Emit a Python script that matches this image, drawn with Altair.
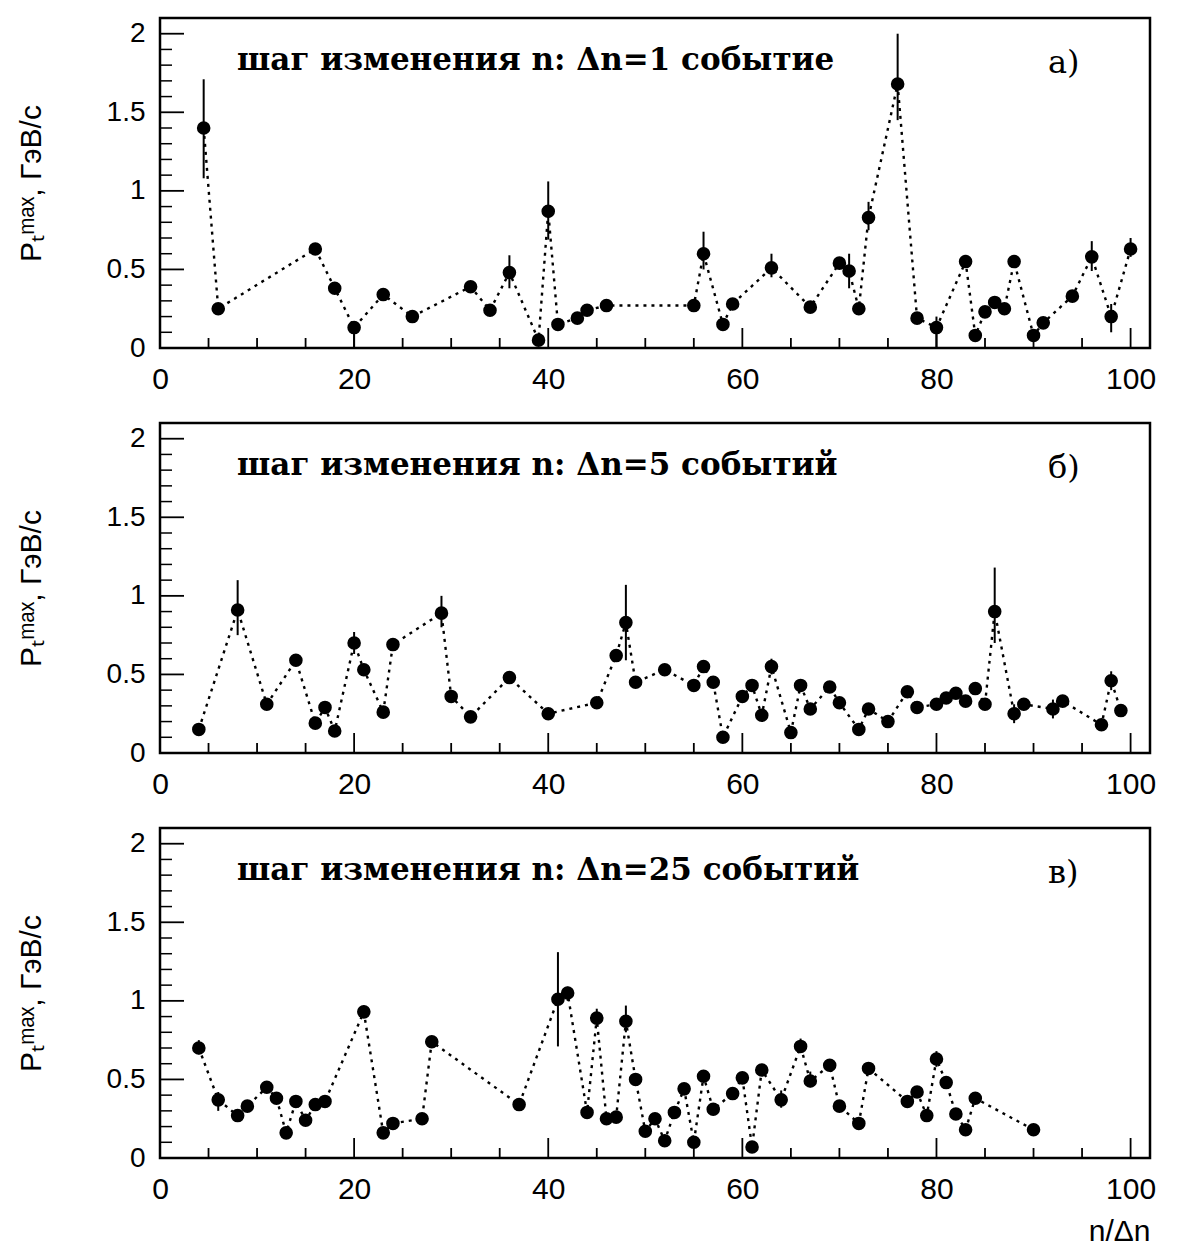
import altair as alt
import pandas as pd

# ---------------- data ----------------
# panel a) step dn = 1 event
xa = [4.5, 6, 16, 18, 20, 23, 26, 32, 34, 36, 39, 40, 41, 43, 44, 46, 55, 56, 58, 59,
      63, 67, 70, 71, 72, 73, 76, 78, 80, 83, 84, 85, 86, 87, 88, 90, 91, 94, 96, 98, 100]
ya = [1.40, 0.25, 0.63, 0.38, 0.13, 0.34, 0.20, 0.39, 0.24, 0.48, 0.05, 0.87, 0.15, 0.19,
      0.24, 0.27, 0.27, 0.60, 0.15, 0.28, 0.51, 0.26, 0.54, 0.49, 0.25, 0.83, 1.68, 0.19,
      0.13, 0.55, 0.08, 0.23, 0.29, 0.25, 0.55, 0.08, 0.16, 0.33, 0.58, 0.20, 0.63]
ea_x = [4.5, 20, 36, 40, 56, 63, 71, 73, 76, 80, 96, 98, 100]
ea_lo = [1.08, 0.00, 0.38, 0.69, 0.50, 0.45, 0.38, 0.75, 1.45, 0.00, 0.49, 0.10, 0.58]
ea_hi = [1.71, 0.13, 0.59, 1.06, 0.74, 0.60, 0.60, 0.93, 2.00, 0.20, 0.68, 0.28, 0.70]

# panel б) step dn = 5 events
xb = [4, 8, 11, 14, 16, 17, 18, 20, 21, 23, 24, 29, 30, 32, 36, 40, 45, 47, 48, 49,
      52, 55, 56, 57, 58, 60, 61, 62, 63, 65, 66, 67, 69, 70, 72, 73, 75, 77, 78, 80,
      81, 82, 83, 84, 85, 86, 88, 89, 92, 93, 97, 98, 99]
yb = [0.15, 0.91, 0.31, 0.59, 0.19, 0.29, 0.14, 0.70, 0.53, 0.26, 0.69, 0.89, 0.36, 0.23,
      0.48, 0.25, 0.32, 0.62, 0.83, 0.45, 0.53, 0.43, 0.55, 0.45, 0.10, 0.36, 0.43, 0.24,
      0.55, 0.13, 0.43, 0.28, 0.42, 0.32, 0.15, 0.28, 0.20, 0.39, 0.29, 0.31, 0.35, 0.38,
      0.33, 0.41, 0.31, 0.90, 0.25, 0.31, 0.28, 0.33, 0.18, 0.46, 0.27]
eb_x = [8, 20, 29, 48, 63, 86, 88, 92, 98]
eb_lo = [0.75, 0.63, 0.80, 0.59, 0.50, 0.70, 0.19, 0.22, 0.40]
eb_hi = [1.10, 0.77, 1.00, 1.07, 0.60, 1.18, 0.31, 0.34, 0.52]

# panel в) step dn = 25 events
xc = [4, 6, 8, 9, 11, 12, 13, 14, 15, 16, 17, 21, 23, 24, 27, 28, 37, 41, 42, 44,
      45, 46, 47, 48, 49, 50, 51, 52, 53, 54, 55, 56, 57, 59, 60, 61, 62, 64, 66, 67,
      69, 70, 72, 73, 77, 78, 79, 80, 81, 82, 83, 84, 90]
yc = [0.70, 0.37, 0.27, 0.33, 0.45, 0.38, 0.16, 0.36, 0.24, 0.34, 0.36, 0.93, 0.16, 0.22,
      0.25, 0.74, 0.34, 1.01, 1.05, 0.29, 0.89, 0.25, 0.26, 0.87, 0.50, 0.17, 0.25, 0.11,
      0.29, 0.44, 0.10, 0.52, 0.31, 0.41, 0.51, 0.07, 0.56, 0.37, 0.71, 0.49, 0.59, 0.33,
      0.22, 0.57, 0.36, 0.42, 0.27, 0.63, 0.48, 0.28, 0.18, 0.38, 0.18]
ec_x = [4, 6, 21, 41, 42, 45, 48, 64, 66, 67, 80]
ec_lo = [0.66, 0.30, 0.90, 0.71, 1.00, 0.84, 0.80, 0.32, 0.68, 0.45, 0.58]
ec_hi = [0.75, 0.42, 0.97, 1.31, 1.09, 0.95, 0.97, 0.43, 0.76, 0.55, 0.68]

x_labels = [0, 20, 40, 60, 80, 100]
x_minor = [5, 10, 15, 25, 30, 35, 45, 50, 55, 65, 70, 75, 85, 90, 95]
x_major = [20, 40, 60, 80, 100]
y_labels = [0, 0.5, 1, 1.5, 2]
y_minor = [0.1, 0.2, 0.3, 0.4, 0.6, 0.7, 0.8, 0.9, 1.1, 1.2, 1.3, 1.4, 1.6, 1.7, 1.8, 1.9]
y_major = [0.5, 1.0, 1.5, 2.0]

notes = ["шаг изменения n: Δn=1 событие",
         "шаг изменения n: Δn=5 событий",
         "шаг изменения n: Δn=25 событий"]
tags = ["а)", "б)", "в)"]
y_title = "Pₜᵐᵃˣ, ГэВ/с"
x_title = "n/Δn"

W, H = 990, 330
SANS = "Liberation Sans"


def panel(xs, ys, ex, elo, ehi, note, tag, last):
    xsc = alt.Scale(domain=[0, 102], nice=False, zero=False)
    ysc = alt.Scale(domain=[0, 2.1], nice=False)
    xaxis = alt.Axis(values=x_labels, ticks=False, domain=False, grid=False,
                     labelFont=SANS, labelFontSize=30, labelColor="black",
                     labelPadding=16, labelFlush=False,
                     title=x_title if last else "",
                     titleFont=SANS, titleFontSize=30, titleFontWeight="normal",
                     titleColor="black", titleAnchor="end", titlePadding=12)
    yaxis = alt.Axis(values=y_labels, format="~g", ticks=False, domain=False, grid=False,
                     labelFont=SANS, labelFontSize=28, labelColor="black",
                     labelPadding=15, labelFlush=False,
                     title=y_title, titleFont=SANS, titleFontSize=30,
                     titleFontWeight="normal", titleColor="black", titlePadding=60)

    df = pd.DataFrame({"x": xs, "y": ys})
    edf = pd.DataFrame({"x": ex, "lo": elo, "hi": ehi})

    X = lambda f: alt.X(f, scale=xsc, axis=xaxis)
    Y = lambda f: alt.Y(f, scale=ysc, axis=yaxis)

    line = alt.Chart(df).mark_line(color="black", strokeWidth=2.4,
                                   strokeDash=[3, 5]).encode(x=X("x:Q"), y=Y("y:Q"))
    pts = alt.Chart(df).mark_circle(color="black", size=185, opacity=1).encode(
        x=X("x:Q"), y=Y("y:Q"))
    err = alt.Chart(edf).mark_rule(color="black", strokeWidth=2).encode(
        x=X("x:Q"), y=Y("lo:Q"), y2="hi:Q")

    ymn = alt.Chart(pd.DataFrame({"v": y_minor})).mark_rule(
        color="black", strokeWidth=1.5).encode(
        y=Y("v:Q"), x=alt.value(0), x2=alt.value(12))
    ymj = alt.Chart(pd.DataFrame({"v": y_major})).mark_rule(
        color="black", strokeWidth=1.8).encode(
        y=Y("v:Q"), x=alt.value(0), x2=alt.value(24))
    xmn = alt.Chart(pd.DataFrame({"v": x_minor})).mark_rule(
        color="black", strokeWidth=1.8).encode(
        x=X("v:Q"), y=alt.value(H), y2=alt.value(H - 10))
    xmj = alt.Chart(pd.DataFrame({"v": x_major})).mark_rule(
        color="black", strokeWidth=1.8).encode(
        x=X("v:Q"), y=alt.value(H), y2=alt.value(H - 20))

    txt = alt.Chart(pd.DataFrame({"t": [note]})).mark_text(
        font="DejaVu Serif", fontSize=31, fontWeight="bold", color="black",
        align="left", baseline="alphabetic").encode(
        x=alt.value(77), y=alt.value(52), text="t:N")
    lab = alt.Chart(pd.DataFrame({"t": [tag]})).mark_text(
        font="DejaVu Serif", fontSize=32, color="black",
        align="left", baseline="alphabetic").encode(
        x=alt.value(888), y=alt.value(55), text="t:N")

    return alt.layer(line, err, pts, ymn, ymj, xmn, xmj, txt, lab).properties(
        width=W, height=H)


chart = alt.vconcat(
    panel(xa, ya, ea_x, ea_lo, ea_hi, notes[0], tags[0], False),
    panel(xb, yb, eb_x, eb_lo, eb_hi, notes[1], tags[1], False),
    panel(xc, yc, ec_x, ec_lo, ec_hi, notes[2], tags[2], True),
    spacing=75, bounds="flush",
).properties(
    padding={"left": 6, "top": 8, "right": 5, "bottom": 5},
    background="white",
).configure_view(stroke="black", strokeWidth=2.5)

chart.save("out.html", embed_options={"renderer": "svg", "actions": False})
